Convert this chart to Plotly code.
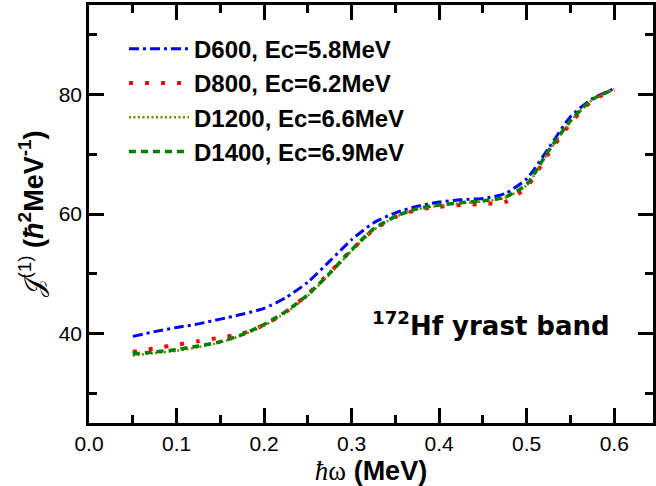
import plotly.graph_objects as go

# Rotational frequency (MeV)
hw = [0.050, 0.075, 0.100, 0.125, 0.150, 0.175, 0.200, 0.225, 0.250, 0.275,
      0.300, 0.325, 0.350, 0.375, 0.400, 0.425, 0.450, 0.475, 0.500, 0.525,
      0.550, 0.575, 0.600]

# Kinematic moment of inertia J(1) (hbar^2 MeV^-1) for each cutoff
j1_d600 = [39.5, 40.3, 41.0, 41.6, 42.4, 43.2, 44.2, 46.0, 48.6, 52.1,
           55.7, 58.5, 60.2, 61.3, 62.0, 62.4, 62.6, 63.4, 65.9, 71.0,
           76.3, 79.3, 81.0]
j1_d800 = [36.9, 37.5, 38.1, 38.7, 39.3, 40.0, 41.4, 43.6, 46.6, 50.2,
           54.0, 57.3, 59.5, 60.7, 61.2, 61.5, 61.7, 62.0, 64.5, 70.1,
           75.2, 79.0, 80.8]
j1_d1200 = [36.3, 36.7, 37.1, 37.7, 38.5, 39.7, 41.3, 43.5, 46.3, 49.9,
            53.8, 57.3, 59.5, 60.8, 61.4, 61.8, 62.1, 62.7, 64.8, 70.4,
            75.5, 79.1, 80.8]
j1_d1400 = [36.6, 36.9, 37.3, 37.9, 38.6, 39.8, 41.5, 43.7, 46.5, 50.1,
            54.0, 57.5, 59.6, 60.9, 61.5, 61.9, 62.2, 62.8, 65.0, 70.6,
            75.6, 79.2, 80.9]

series_names = ["D600, Ec=5.8MeV", "D800, Ec=6.2MeV",
                "D1200, Ec=6.6MeV", "D1400, Ec=6.9MeV"]

x_ticks = [0.0, 0.1, 0.2, 0.3, 0.4, 0.5, 0.6]
x_tick_text = ["0.0", "0.1", "0.2", "0.3", "0.4", "0.5", "0.6"]
y_ticks = [40, 60, 80]

FONT = "Liberation Sans, Arial, sans-serif"

styles = [
    dict(color="#0000ff", width=3, dash="10px,4px,3px,4px"),
    dict(color="#ff0000", width=4, dash="4px,12px"),
    dict(color="#808000", width=2.5, dash="2px,2.5px"),
    dict(color="#008000", width=3.5, dash="7px,5px"),
]

fig = go.Figure()
for name, ys, st in zip(series_names, [j1_d600, j1_d800, j1_d1200, j1_d1400], styles):
    fig.add_trace(go.Scatter(
        x=hw, y=ys, mode="lines", name=f"<b>{name}</b>",
        line=dict(shape="spline", smoothing=0.6, **st),
    ))

axis_common = dict(
    showline=True, linecolor="black", linewidth=2.5, mirror="allticks",
    ticks="inside", tickcolor="black", tickwidth=2.5, ticklen=15,
    showgrid=False, zeroline=False,
    tickfont=dict(family=FONT, size=21, color="black"),
)

fig.update_xaxes(
    range=[0.0, 0.6443], tickvals=x_ticks, ticktext=x_tick_text,
    minor=dict(ticks="inside", ticklen=8, tickwidth=2.5, tickcolor="black", dtick=0.05),
    title=dict(text="<span style='font-family:Liberation Serif'><i>ħ</i>ω</span> <b>(MeV)</b>",
               font=dict(family=FONT, size=27, color="black"), standoff=11),
    **axis_common,
)
fig.update_yaxes(
    range=[25, 95], tickvals=y_ticks,
    minor=dict(ticks="inside", ticklen=8, tickwidth=2.5, tickcolor="black", dtick=10, tick0=30),
    title=dict(text="<span style='font-family:DejaVu Serif'>𝒥</span><sup>(1)</sup> "
                    "<b>(<i>ħ</i><sup>2</sup>MeV<sup>-1</sup>)</b>",
               font=dict(family=FONT, size=27, color="black"), standoff=8),
    **axis_common,
)

fig.add_annotation(
    x=0.927, y=0.237, xref="paper", yref="paper", xanchor="right", yanchor="middle",
    text="<b><sup>172</sup>Hf yrast band</b>", showarrow=False,
    font=dict(family="DejaVu Sans, sans-serif", size=26, color="black"),
)

fig.update_layout(
    width=656, height=486,
    margin=dict(l=89, r=0, t=5, b=63),
    paper_bgcolor="white", plot_bgcolor="white",
    showlegend=True,
    legend=dict(
        x=0.062, y=0.948, xanchor="left", yanchor="top",
        bgcolor="rgba(0,0,0,0)", borderwidth=0,
        font=dict(family=FONT, size=24, color="black"),
        itemwidth=60, tracegroupgap=0,
    ),
)

fig.write_html("out.html")
